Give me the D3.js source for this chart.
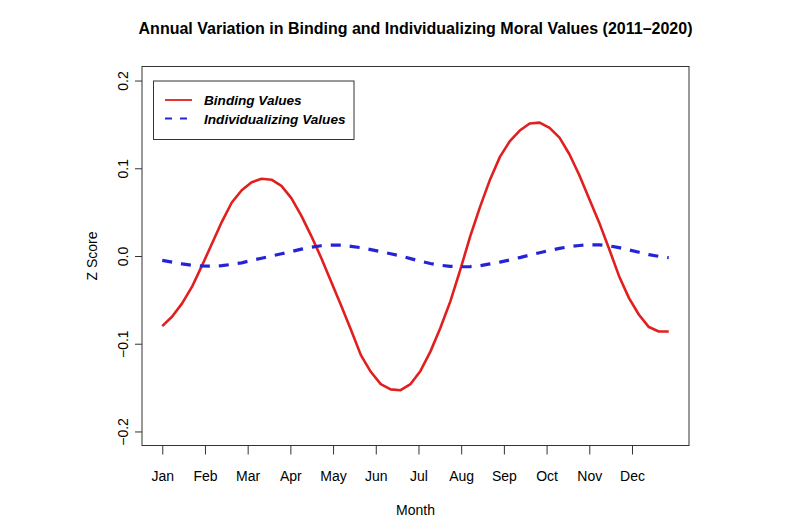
<!DOCTYPE html>
<html>
<head>
<meta charset="utf-8">
<script src="https://cdn.jsdelivr.net/npm/d3@7"></script>
<style>
  html, body { margin: 0; padding: 0; background: #ffffff; }
  svg { display: block; font-family: "Liberation Sans", Arial, Helvetica, sans-serif; }
</style>
</head>
<body>
<svg id="chart" width="800" height="530"></svg>
<script>
// ---- Data ----
const weeks = d3.range(1, 53); // weekly points 1..52
const bindingValues = [
  -0.080, -0.069, -0.054, -0.035, -0.011, 0.014, 0.039, 0.061, 0.075, 0.084,
  0.088, 0.087, 0.080, 0.066, 0.046, 0.023, -0.002, -0.029, -0.056, -0.084,
  -0.113, -0.132, -0.146, -0.152, -0.153, -0.146, -0.131, -0.109, -0.082, -0.052,
  -0.016, 0.022, 0.056, 0.087, 0.113, 0.131, 0.143, 0.151, 0.152, 0.146,
  0.135, 0.116, 0.092, 0.065, 0.038, 0.008, -0.023, -0.048, -0.067, -0.081,
  -0.086, -0.086
];
const individualizingValues = [
  -0.005, -0.007, -0.009, -0.0105, -0.0114, -0.0116, -0.011, -0.0095, -0.0078, -0.005,
  -0.0025, 0.000, 0.0025, 0.005, 0.0078, 0.010, 0.0117, 0.0123, 0.0123, 0.011,
  0.0095, 0.0073, 0.005, 0.0025, 0.000, -0.003, -0.006, -0.0085, -0.0105, -0.0118,
  -0.0123, -0.012, -0.011, -0.009, -0.007, -0.0045, -0.0018, 0.001, 0.0037, 0.0063,
  0.0087, 0.0106, 0.012, 0.0128, 0.0127, 0.0115, 0.0095, 0.007, 0.0043, 0.0015,
  -0.0004, -0.002
];
const monthLabels = ["Jan","Feb","Mar","Apr","May","Jun","Jul","Aug","Sep","Oct","Nov","Dec"];
const monthTickWeeks = [1, 5.3, 9.6, 13.9, 18.2, 22.5, 26.8, 31.1, 35.4, 39.7, 44, 48.3];
const yTickValues = [-0.2, -0.1, 0.0, 0.1, 0.2];
const seriesNames = ["Binding Values", "Individualizing Values"];

// ---- Layout ----
const plot = { left: 142, right: 689, top: 66.5, bottom: 445.5 };
const svg = d3.select("#chart");

const x = d3.scaleLinear().domain([-1.04, 54.04]).range([plot.left, plot.right]);
const y = d3.scaleLinear().domain([-0.216, 0.216]).range([plot.bottom, plot.top]);

const red = "#e11f1f";
const blue = "#2424d6";
const axisFont = "14px";

// Title
svg.append("text")
  .attr("x", (plot.left + plot.right) / 2)
  .attr("y", 34)
  .attr("text-anchor", "middle")
  .attr("font-size", "16px")
  .attr("font-weight", "bold")
  .attr("fill", "#000")
  .text("Annual Variation in Binding and Individualizing Moral Values (2011\u20132020)");

// Lines
const lineGen = (vals) => d3.line()
  .x((d, i) => x(weeks[i]))
  .y(d => y(d))(vals);

svg.append("path")
  .attr("d", lineGen(bindingValues))
  .attr("fill", "none")
  .attr("stroke", red)
  .attr("stroke-width", 2.6)
  .attr("stroke-linejoin", "round");

svg.append("path")
  .attr("d", lineGen(individualizingValues))
  .attr("fill", "none")
  .attr("stroke", blue)
  .attr("stroke-width", 3.2)
  .attr("stroke-dasharray", "10,9");

// Box
svg.append("rect")
  .attr("x", plot.left).attr("y", plot.top)
  .attr("width", plot.right - plot.left).attr("height", plot.bottom - plot.top)
  .attr("fill", "none").attr("stroke", "#333").attr("stroke-width", 1);

// X axis
const xAxis = d3.axisBottom(x)
  .tickValues(monthTickWeeks)
  .tickFormat((d, i) => monthLabels[i])
  .tickSize(9)
  .tickPadding(16.5);
const gx = svg.append("g").attr("transform", `translate(0,${plot.bottom})`).call(xAxis);
gx.select(".domain").remove();
gx.selectAll("line").attr("stroke", "#333");
gx.selectAll("text").attr("font-size", axisFont).attr("font-family", "Liberation Sans, Arial, sans-serif").attr("fill", "#000");

// Y axis
const yAxis = d3.axisLeft(y)
  .tickValues(yTickValues)
  .tickFormat(d3.format(".1f"))
  .tickSize(7);
const gy = svg.append("g").attr("transform", `translate(${plot.left},0)`).call(yAxis);
gy.select(".domain").remove();
gy.selectAll("line").attr("stroke", "#333");
gy.selectAll("text")
  .attr("x", null).attr("dy", null)
  .attr("text-anchor", "middle")
  .attr("transform", "translate(-14,0) rotate(-90)")
  .attr("font-size", axisFont)
  .attr("font-family", "Liberation Sans, Arial, sans-serif")
  .attr("fill", "#000");

// Axis titles
svg.append("text")
  .attr("x", (plot.left + plot.right) / 2)
  .attr("y", 515)
  .attr("text-anchor", "middle")
  .attr("font-size", axisFont)
  .text("Month");

svg.append("text")
  .attr("transform", `translate(96.5,${(plot.top + plot.bottom) / 2}) rotate(-90)`)
  .attr("text-anchor", "middle")
  .attr("font-size", axisFont)
  .text("Z Score");

// Legend
const legend = svg.append("g");
legend.append("rect")
  .attr("x", 153.5).attr("y", 81)
  .attr("width", 200.5).attr("height", 58.5)
  .attr("fill", "#fff").attr("stroke", "#333").attr("stroke-width", 1);
const legendRows = [
  { name: seriesNames[0], color: red, dash: null, width: 1.8, yy: 100 },
  { name: seriesNames[1], color: blue, dash: "7,8", width: 2.2, yy: 118.5 }
];
legendRows.forEach(r => {
  legend.append("line")
    .attr("x1", 165).attr("x2", 192)
    .attr("y1", r.yy).attr("y2", r.yy)
    .attr("stroke", r.color)
    .attr("stroke-width", r.width)
    .attr("stroke-dasharray", r.dash);
  legend.append("text")
    .attr("x", 204).attr("y", r.yy + 5)
    .attr("font-size", "13.6px")
    .attr("font-weight", "bold")
    .attr("font-style", "italic")
    .text(r.name);
});
</script>
</body>
</html>
